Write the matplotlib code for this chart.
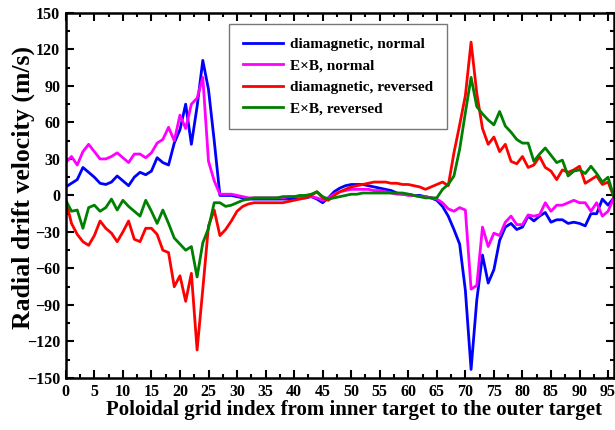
import numpy as np
import matplotlib.pyplot as plt
from matplotlib.ticker import MultipleLocator

plt.switch_backend('agg')
plt.rcParams['font.family'] = ['Liberation Serif', 'DejaVu Serif']
plt.rcParams['font.weight'] = 'bold'

# poloidal grid index
idx = np.arange(97)

dia_normal = [7, 10, 13, 23, 19, 15, 10, 9, 11, 16,
              12, 8, 15, 19, 17, 20, 31, 27, 25, 43,
              54, 75, 42, 73, 111, 87, 45, 0, 0, 0,
              -1, -2, -3, -3, -3, -3, -3, -3, -3, -3,
              -3, -2, -2, -1, -3, -6, -2, 3, 6, 8,
              9, 9, 9, 8, 7, 6, 5, 4, 2, 1,
              1, 0, 0, -1, -2, -4, -9, -17, -28, -40,
              -78, -143, -86, -49, -72, -61, -37, -26, -23, -28,
              -26, -17, -21, -17, -14, -22, -20, -20, -23, -22,
              -23, -25, -15, -15, -3, -8, -2]

exb_normal = [27, 32, 25, 36, 42, 36, 30, 30, 32, 35,
              31, 27, 34, 34, 31, 35, 43, 46, 56, 45,
              66, 55, 75, 80, 97, 28, 12, 1, 1, 1,
              0, -1, -2, -2, -2, -2, -2, -2, -2, -1,
              -1, -1, -1, -1, -2, -4, -2, 1, 3, 4,
              5, 5, 5, 5, 4, 4, 3, 2, 1, 1,
              0, 0, -1, -1, -2, -3, -6, -11, -13, -10,
              -12, -77, -74, -26, -42, -31, -33, -22, -17, -24,
              -24, -16, -17, -16, -6, -13, -8, -8, -6, -4,
              -6, -6, -13, -6, -17, -13, -2]

dia_reversed = [-4, -23, -32, -38, -41, -33, -21, -27, -31, -38,
                -30, -21, -36, -38, -27, -27, -32, -45, -47, -75,
                -66, -87, -64, -127, -77, -25, -12, -33, -28, -21,
                -13, -9, -7, -6, -6, -6, -6, -6, -6, -5,
                -4, -3, -2, 0, 3, -2, -4, 0, 3, 5,
                7, 8, 9, 10, 11, 11, 11, 10, 10, 9,
                9, 8, 7, 5, 7, 9, 11, 8, 35, 58,
                82, 126, 84, 55, 42, 48, 36, 42, 28, 26,
                32, 23, 25, 32, 23, 20, 13, 21, 19, 21,
                24, 10, 13, 16, 9, 11, -1]

exb_reversed = [-4, -13, -12, -27, -10, -8, -13, -10, -3, -12,
                -4, -9, -13, -17, -4, -13, -23, -12, -23, -35,
                -40, -45, -42, -67, -39, -27, -6, -6, -9, -8,
                -6, -4, -3, -2, -2, -2, -2, -2, -1, -1,
                -1, 0, 0, 1, 3, -1, -3, -2, -1, 0,
                1, 1, 2, 2, 2, 2, 2, 2, 2, 2,
                1, 0, -1, -2, -2, -2, 5, 9, 16, 38,
                68, 97, 73, 67, 62, 58, 69, 57, 52, 46,
                43, 43, 28, 34, 39, 33, 27, 29, 16, 20,
                21, 18, 24, 18, 11, 15, -1]

fig = plt.figure(figsize=(6.15, 4.3), dpi=100)
ax = fig.add_axes([0.107, 0.121, 0.891, 0.849])

ax.plot(idx, dia_normal, color='#0000ff', lw=2, label='diamagnetic, normal')
ax.plot(idx, exb_normal, color='#ff00ff', lw=2, label='E\u00d7B, normal')
ax.plot(idx, dia_reversed, color='#ff0000', lw=2, label='diamagnetic, reversed')
ax.plot(idx, exb_reversed, color='#008000', lw=2, label='E\u00d7B, reversed')

ax.set_xlim(0, 96)
ax.set_ylim(-150, 150)
ax.xaxis.set_major_locator(MultipleLocator(5))
ax.xaxis.set_minor_locator(MultipleLocator(2.5))
ax.yaxis.set_major_locator(MultipleLocator(30))
ax.yaxis.set_minor_locator(MultipleLocator(15))
ax.tick_params(which='both', direction='in', top=True, right=True, width=1.5)
ax.tick_params(which='major', length=6, labelsize=11.5, pad=4)
ax.tick_params(which='minor', length=3)
for s in ax.spines.values():
    s.set_linewidth(1.8)

ax.set_xlabel('Poloidal grid index from inner target to the outer target',
              fontsize=15, fontweight='bold')
ax.set_ylabel('Radial drift velocity (m/s)', fontsize=18.5, fontweight='bold')
ax.xaxis.set_label_coords(0.526, -0.06)
ax.yaxis.set_label_coords(-0.056, 0.523)

leg = ax.legend(loc='upper left', bbox_to_anchor=(0.298, 0.970), borderaxespad=0,
                fontsize=11, fancybox=False, handlelength=2.6, handletextpad=0.5,
                labelspacing=0.5, borderpad=0.9)
leg.get_frame().set_edgecolor('#555555')
leg.get_frame().set_linewidth(1.0)

fig.set_facecolor('white')
plt.savefig('out.png', dpi=100)
